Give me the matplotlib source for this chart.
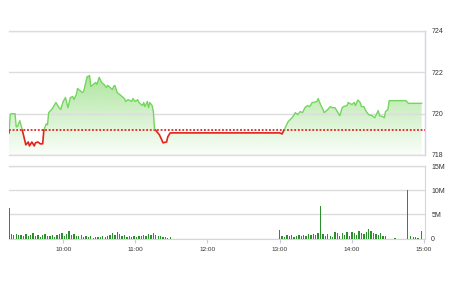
import numpy as np
import matplotlib
matplotlib.use("Agg")
import matplotlib.pyplot as plt

plt.rcParams['font.family'] = ['Liberation Sans', 'DejaVu Sans']

# ---------------- data ----------------
ref_price = 719.2

price_times = ["9:15", "9:16", "9:17", "9:20", "9:21", "9:22", "9:24", "9:26", "9:27", "9:29",
               "9:31", "9:32", "9:34", "9:36", "9:37", "9:39", "9:41", "9:43", "9:44", "9:46",
               "9:47", "9:48", "9:51", "9:52", "9:54", "9:56", "9:58", "10:00", "10:02", "10:03",
               "10:04", "10:06", "10:08", "10:09", "10:11", "10:12", "10:14", "10:16", "10:17", "10:18",
               "10:20", "10:21", "10:22", "10:23", "10:25", "10:27", "10:28", "10:30", "10:32", "10:34",
               "10:36", "10:37", "10:38", "10:41", "10:42", "10:43", "10:45", "10:47", "10:49", "10:51",
               "10:52", "10:54", "10:57", "10:58", "11:00", "11:02", "11:03", "11:06", "11:07", "11:08",
               "11:10", "11:11", "11:12", "11:14", "11:15", "11:16", "11:18", "11:20", "11:22", "11:23",
               "11:26", "11:27", "11:29", "11:30",
               "13:00", "13:02", "13:05", "13:07", "13:11", "13:13", "13:15", "13:17", "13:19", "13:21",
               "13:23", "13:25", "13:27", "13:28", "13:31", "13:32", "13:34", "13:36", "13:37", "13:40",
               "13:42", "13:44", "13:46", "13:48", "13:50", "13:52", "13:53", "13:56", "13:57", "14:00",
               "14:02", "14:03", "14:05", "14:07", "14:08", "14:10", "14:12", "14:14", "14:17", "14:19",
               "14:22", "14:23", "14:26", "14:27", "14:28", "14:30", "14:31", "14:32", "14:45", "14:47",
               "14:58"]
price_values = [719.07, 719.95, 720.00, 720.00, 719.37, 719.37, 719.66, 719.22, 718.98, 718.49,
                718.63, 718.44, 718.63, 718.44, 718.59, 718.63, 718.54, 718.54, 719.22, 719.51,
                719.46, 720.05, 720.24, 720.34, 720.54, 720.34, 720.20, 720.59, 720.78, 720.54,
                720.29, 720.78, 720.83, 720.68, 720.93, 721.22, 721.12, 721.02, 721.07, 721.32,
                721.80, 721.80, 721.85, 721.32, 721.41, 721.51, 721.41, 721.76, 721.51, 721.41,
                721.27, 721.37, 721.32, 721.17, 721.32, 721.37, 721.02, 720.93, 720.83, 720.73,
                720.59, 720.68, 720.59, 720.73, 720.59, 720.68, 720.54, 720.39, 720.54, 720.34,
                720.59, 720.29, 720.54, 720.39, 720.10, 719.27, 719.12, 718.98, 718.73, 718.59,
                718.63, 718.88, 719.07, 719.07,
                719.07, 719.02, 719.37, 719.61, 719.85, 720.05, 719.95, 720.10, 720.05, 720.29,
                720.39, 720.34, 720.54, 720.54, 720.59, 720.73, 720.44, 720.20, 720.05, 720.20,
                720.34, 720.29, 720.29, 720.10, 719.90, 720.29, 720.34, 720.39, 720.54, 720.44,
                720.54, 720.39, 720.66, 720.54, 720.34, 720.34, 720.10, 719.95, 719.90, 719.80,
                720.15, 719.90, 719.85, 719.80, 720.10, 720.20, 720.63, 720.63, 720.63, 720.50,
                720.50]

# volume (millions), morning bars every 2 minutes from 9:15 to 11:29
vol_am = [6.3, 0.9, 0.8, 0.9, 0.7, 0.8, 0.6, 0.9, 0.5, 0.7,
          1.1, 0.6, 0.8, 0.4, 0.7, 0.9, 0.5, 0.6, 0.8, 0.4,
          0.7, 0.9, 1.2, 0.6, 1.0, 1.6, 0.8, 0.9, 0.6, 0.5,
          0.7, 0.4, 0.6, 0.3, 0.5, 0.2, 0.3, 0.4, 0.3, 0.5,
          0.4, 0.6, 0.7, 1.1, 0.8, 1.3, 0.9, 0.6, 0.7, 0.4,
          0.5, 0.3, 0.5, 0.4, 0.6, 0.5, 0.8, 0.6, 1.0, 0.7,
          1.2, 0.8, 0.6, 0.5, 0.4, 0.3, 0.2, 0.3]
# afternoon bars every 2 minutes from 13:00 to 14:28
vol_pm = [1.7, 0.6, 0.4, 0.7, 0.5, 0.8, 0.4, 0.6, 0.7, 0.5,
          0.8, 0.6, 0.9, 0.7, 1.0, 0.8, 1.1, 6.8, 0.9, 0.6,
          1.0, 0.5, 0.4, 1.3, 1.2, 0.6, 1.1, 0.7, 1.3, 0.5,
          1.4, 1.2, 0.8, 1.5, 1.1, 0.9, 1.3, 2.0, 1.6, 1.1,
          1.0, 0.8, 1.2, 0.6, 0.5]
vol_close_times = ["14:36", "14:46", "14:49", "14:51", "14:53", "14:55", "14:58"]
vol_close = [0.2, 10.0, 0.6, 0.3, 0.3, 0.2, 1.6]

x_tick_labels = ["10:00", "11:00", "12:00", "13:00", "14:00", "15:00"]
price_ticks = [718, 720, 722, 724]
vol_ticks = [0, 5, 10, 15]
vol_tick_labels = ["0", "5M", "10M", "15M"]


def tmin(s):
    h, m = s.split(":")
    return int(h) * 60 + int(m) - 540  # minutes after 9:00


px = np.array([tmin(t) for t in price_times], dtype=float)
py = np.array(price_values, dtype=float)

vx = np.concatenate([np.arange(15, 150, 2), np.arange(240, 330, 2),
                     [tmin(t) for t in vol_close_times]]).astype(float)
vy = np.concatenate([vol_am, vol_pm, vol_close]) * 1e6

# ---------------- figure ----------------
fig = plt.figure(figsize=(4.5, 2.81), dpi=100)
ax1 = fig.add_axes([0.02, 0.4484, 0.9244, 0.4413])
ax2 = fig.add_axes([0.02, 0.1512, 0.9244, 0.2580])

xmin, xmax = 15, 360.8
grid_c = '#dcdcdc'
frame_c = '#cfd6e6'
text_c = '#333333'
green = '#74d65f'
red = '#e3221d'

# --- price panel
ax1.set_xlim(xmin, xmax)
ax1.set_ylim(718, 724)

# gradient fill (stronger at the top, fading towards the bottom)
poly = ax1.fill_between(px, py, 718, color='none', lw=0)
grad = np.zeros((256, 1, 4))
base = np.array([118, 212, 92]) / 255.0
grad[:, 0, :3] = base
grad[:, 0, 3] = np.linspace(0.62, 0.03, 256)
img = ax1.imshow(grad, extent=[xmin, xmax, 718, 722.0], origin='upper',
                 aspect='auto', zorder=1, interpolation='bilinear')
path = poly.get_paths()[0]
img.set_clip_path(path, transform=ax1.transData)
ax1.set_ylim(718, 724)
ax1.set_xlim(xmin, xmax)

ax1.axhline(ref_price, color=red, lw=1.3, ls=(0, (1, 1)), zorder=3)

# split the line at crossings with the reference
xs, ys = [px[0]], [py[0]]
for i in range(1, len(px)):
    y0, y1 = py[i - 1], py[i]
    if (y0 - ref_price) * (y1 - ref_price) < 0:
        t = (ref_price - y0) / (y1 - y0)
        xs.append(px[i - 1] + t * (px[i] - px[i - 1]))
        ys.append(ref_price)
    xs.append(px[i])
    ys.append(py[i])
xs = np.array(xs)
ys = np.array(ys)
ax1.plot(xs, np.where(ys >= ref_price - 1e-9, ys, np.nan), color=green, lw=1.0, zorder=4)
ax1.plot(xs, np.where(ys <= ref_price + 1e-9, ys, np.nan), color=red, lw=1.2, zorder=4)

ax1.set_yticks(price_ticks)
ax1.set_yticklabels([str(v) for v in price_ticks])
ax1.yaxis.tick_right()
ax1.tick_params(axis='y', length=0, pad=4.5, labelsize=5, labelcolor=text_c)
ax1.set_xticks([])
ax1.grid(axis='y', color=grid_c, lw=1.0, zorder=0)
for s in ['top', 'bottom', 'left']:
    ax1.spines[s].set_visible(False)
ax1.spines['right'].set_color(frame_c)
ax1.spines['right'].set_linewidth(1.0)
for yv in [718, 724]:
    ax1.axhline(yv, color=grid_c, lw=1.0, zorder=0, clip_on=False)

# --- volume panel
ax2.bar(vx, vy, width=1.1, color='#2b8f2b', zorder=3)
ax2.set_xlim(xmin, xmax)
ax2.set_ylim(0, 15e6)
ax2.set_yticks([v * 1e6 for v in vol_ticks])
ax2.set_yticklabels(vol_tick_labels)
ax2.yaxis.tick_right()
ax2.tick_params(axis='y', length=0, pad=4.5, labelsize=5, labelcolor=text_c)
ax2.set_xticks([tmin(t) for t in x_tick_labels])
ax2.set_xticklabels(x_tick_labels)
ax2.tick_params(axis='x', length=3, width=0.8, color='#c3cde0', pad=3,
                labelsize=4.6, labelcolor=text_c)
ax2.grid(axis='y', color=grid_c, lw=1.0, zorder=0)
for s in ['top', 'left']:
    ax2.spines[s].set_visible(False)
ax2.axhline(15e6, color=grid_c, lw=1.0, zorder=0, clip_on=False)
ax2.spines['right'].set_color(frame_c)
ax2.spines['bottom'].set_color(frame_c)

fig.savefig("out.png", dpi=100)
